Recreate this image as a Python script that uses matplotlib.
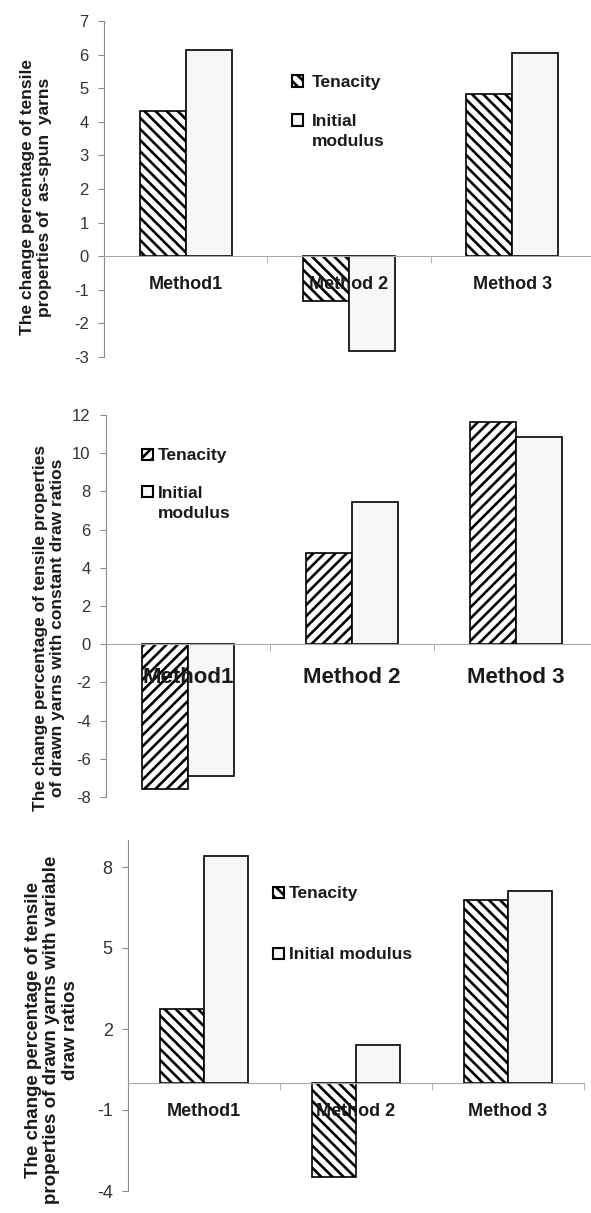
import numpy as np
import matplotlib
matplotlib.use('Agg')
import matplotlib.pyplot as plt
from matplotlib.patches import Rectangle

plt.rcParams['font.family'] = ['Liberation Sans', 'DejaVu Sans']
plt.rcParams['hatch.linewidth'] = 1.9
plt.rcParams['axes.unicode_minus'] = False

# Kategorien und Serien
METHODEN = ['Method1', 'Method 2', 'Method 3']

# Panel 1: as-spun yarns
SPUN_TENACITY = [4.31, -1.34, 4.82]
SPUN_MODULUS = [6.14, -2.82, 6.06]

# Panel 2: drawn yarns, constant draw ratios
CONST_TENACITY = [-7.59, 4.76, 11.65]
CONST_MODULUS = [-6.92, 7.43, 10.83]

# Panel 3: drawn yarns, variable draw ratios
VAR_TENACITY = [2.74, -3.49, 6.79]
VAR_MODULUS = [8.42, 1.41, 7.11]

W, H = 591, 1213
fig = plt.figure(figsize=(W / 100, H / 100), dpi=100)

TEXT = '#1a1a1a'
GRAU = '#8c8c8c'
MODULUS_FARBE = '#f7f7f7'


def axes_px(left, top, right, bottom):
    return fig.add_axes([left / W, 1 - bottom / H, (right - left) / W, (bottom - top) / H])


def panel(ax, tenacity, modulus, hatch, breite, yticks, ylim, ticksize, catsize, catpad):
    x = np.arange(1, len(METHODEN) + 1)
    ax.bar(x - breite / 2, tenacity, breite, facecolor='white', edgecolor='black',
           hatch=hatch, linewidth=1.2, zorder=1)
    ax.bar(x + breite / 2, modulus, breite, facecolor=MODULUS_FARBE, edgecolor='black',
           linewidth=1.2, zorder=1)

    ax.set_xlim(0.5, 3.5)
    ax.set_ylim(*ylim)
    ax.set_yticks(yticks)

    for s in ['top', 'right']:
        ax.spines[s].set_visible(False)
    ax.spines['left'].set_color(GRAU)
    ax.spines['bottom'].set_position(('data', 0))
    ax.spines['bottom'].set_color('#a8a8a8')

    ax.set_xticks(x)
    ax.set_xticklabels(METHODEN, fontweight='bold', fontsize=catsize, color=TEXT)
    ax.set_xticks([1.5, 2.5, 3.5], minor=True)
    ax.tick_params(axis='x', which='major', length=0, pad=catpad)
    ax.tick_params(axis='x', which='minor', length=5, color='#a8a8a8', direction='out')
    ax.tick_params(axis='y', length=4, color=GRAU, labelsize=ticksize,
                   labelcolor='#333333', pad=7)


def legende(hatch, eintraege, box_x, text_x, groesse=12.5):
    # eintraege: (Text, Zeilenmitte in px)
    fs_px = groesse * 100 / 72
    for i, (label, yc) in enumerate(eintraege):
        fig.add_artist(Rectangle((box_x / W, 1 - (yc + 5.5) / H), 11 / W, 11 / H,
                                 transform=fig.transFigure,
                                 facecolor='white' if i == 0 else MODULUS_FARBE,
                                 edgecolor='black', linewidth=1.5,
                                 hatch=hatch if i == 0 else None))
        fig.text(text_x / W, 1 - (yc - 0.37 * fs_px) / H, label, ha='left', va='top',
                 fontweight='bold', fontsize=groesse, color=TEXT, linespacing=1.45)


# Panel 1
ax1 = axes_px(104, 21, 594, 357)
panel(ax1, SPUN_TENACITY, SPUN_MODULUS, '\\\\\\', 0.282, range(-3, 8), (-3, 7), 12, 13, 14)
legende('\\\\\\', [('Tenacity', 81), ('Initial\nmodulus', 120)], 292, 312)
fig.text(36 / W, 1 - 197 / H, 'The change percentage of tensile\nproperties of  as-spun  yarns',
         rotation=90, ha='center', va='center', fontweight='bold', fontsize=12.5,
         color=TEXT, linespacing=1.15, multialignment='center')

# Panel 2
ax2 = axes_px(106, 415, 598, 797)
panel(ax2, CONST_TENACITY, CONST_MODULUS, '///', 0.282, range(-8, 13, 2), (-8, 12), 12, 16, 16.5)
legende('///', [('Tenacity', 454), ('Initial\nmodulus', 492)], 142, 158)
fig.text(49 / W, 1 - 628 / H,
         'The change percentage of tensile properties\nof drawn yarns with constant draw ratios',
         rotation=90, ha='center', va='center', fontweight='bold', fontsize=12.5,
         color=TEXT, linespacing=1.15, multialignment='center')

# Panel 3
ax3 = axes_px(128, 840, 584, 1191)
panel(ax3, VAR_TENACITY, VAR_MODULUS, '\\\\\\', 0.29, [-4, -1, 2, 5, 8], (-4, 9), 13, 13, 14.5)
legende('\\\\\\', [('Tenacity', 892), ('Initial modulus', 953)], 273, 289)
fig.text(52 / W, 1 - 1030 / H,
         'The change percentage of tensile\nproperties of drawn yarns with variable\ndraw ratios',
         rotation=90, ha='center', va='center', fontweight='bold', fontsize=13.5,
         color=TEXT, linespacing=1.1, multialignment='center')

fig.savefig('out.png', dpi=100)
